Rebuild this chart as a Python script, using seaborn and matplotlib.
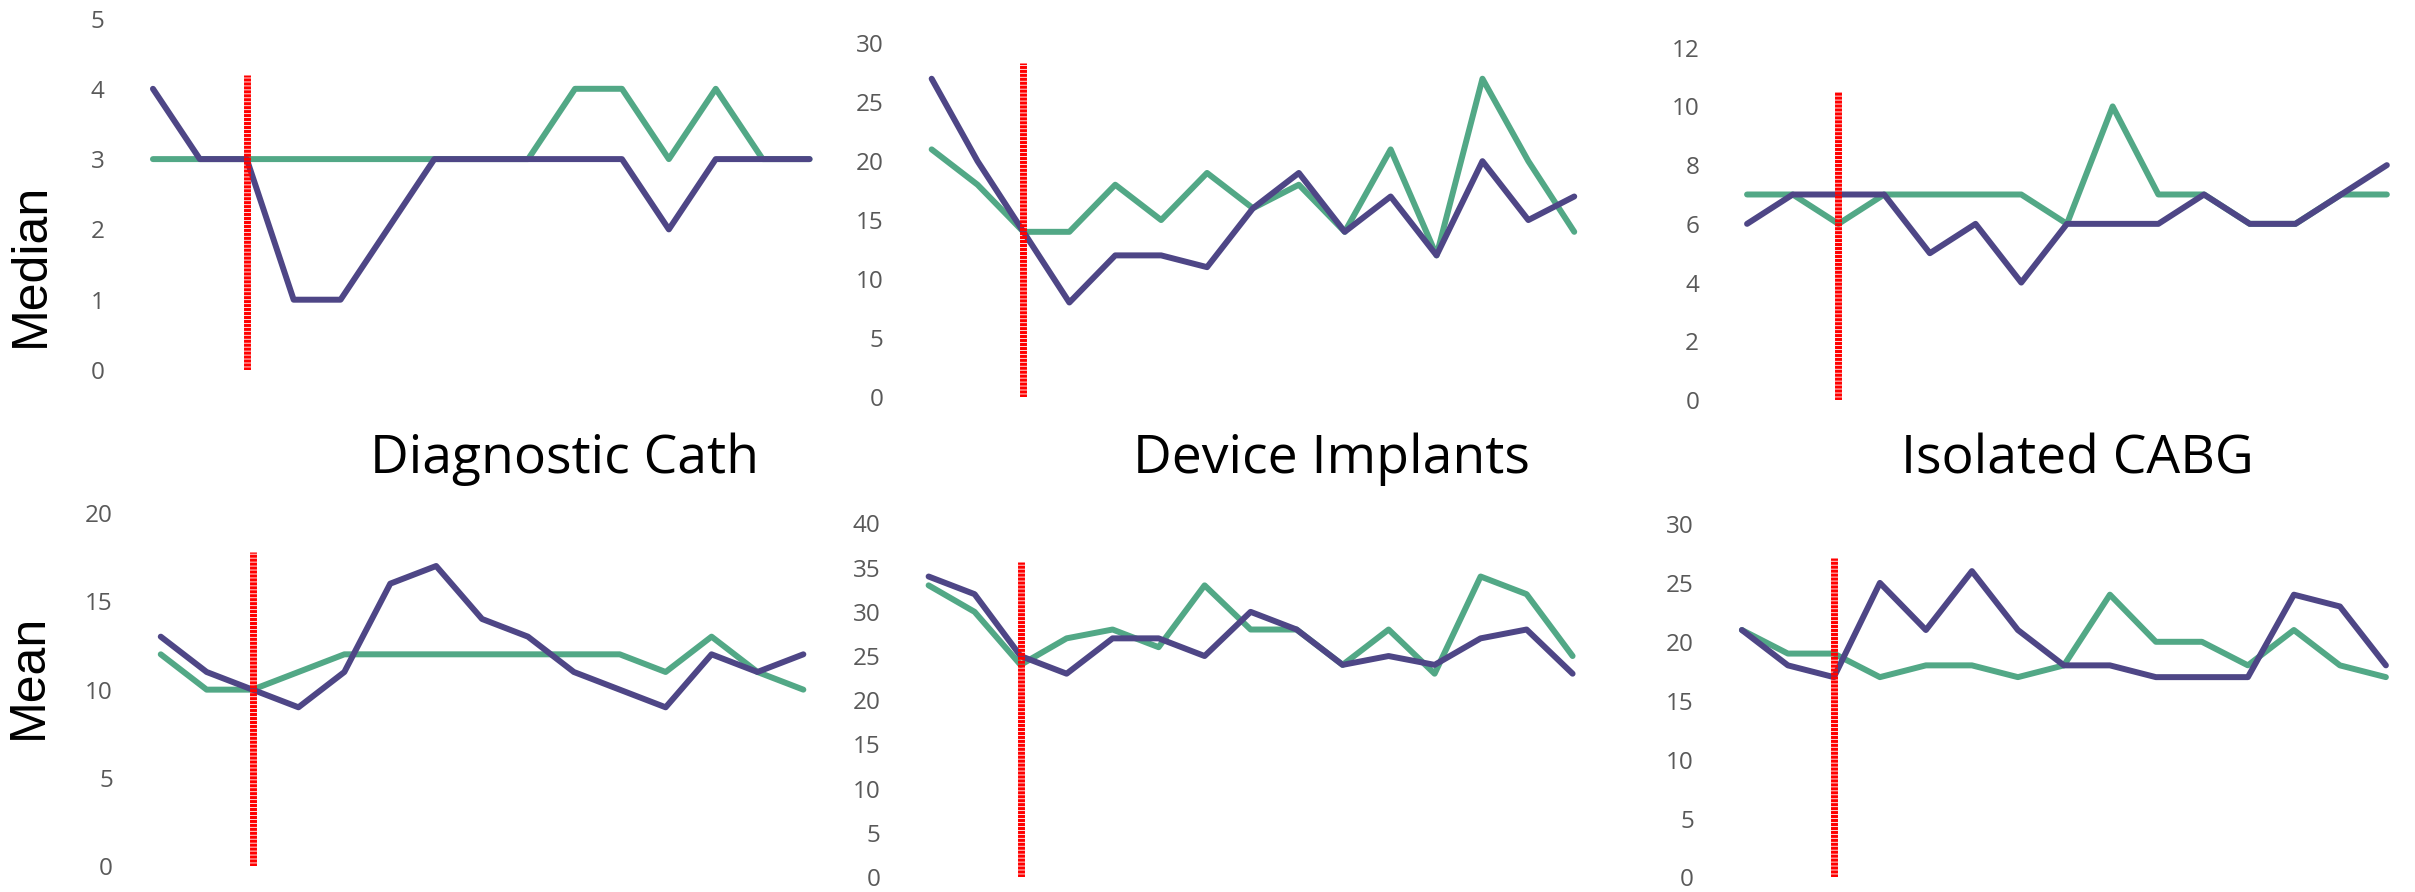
import numpy as np
import pandas as pd
import seaborn as sns
import matplotlib
matplotlib.use("Agg")
import matplotlib.pyplot as plt

# ============================================================================
# DATA
# ============================================================================
periods = list(range(1, 16))
procedures = ["Diagnostic Cath", "Device Implants", "Isolated CABG"]
series_names = ["Group A", "Group B"]  # green, purple

median_cath_green = [3, 3, 3, 3, 3, 3, 3, 3, 3, 4, 4, 3, 4, 3, 3]
median_cath_purple = [4, 3, 3, 1, 1, 2, 3, 3, 3, 3, 3, 2, 3, 3, 3]
median_device_green = [21, 18, 14, 14, 18, 15, 19, 16, 18, 14, 21, 12, 27, 20, 14]
median_device_purple = [27, 20, 14, 8, 12, 12, 11, 16, 19, 14, 17, 12, 20, 15, 17]
median_cabg_green = [7, 7, 6, 7, 7, 7, 7, 6, 10, 7, 7, 6, 6, 7, 7]
median_cabg_purple = [6, 7, 7, 7, 5, 6, 4, 6, 6, 6, 7, 6, 6, 7, 8]

mean_cath_green = [12, 10, 10, 11, 12, 12, 12, 12, 12, 12, 12, 11, 13, 11, 10]
mean_cath_purple = [13, 11, 10, 9, 11, 16, 17, 14, 13, 11, 10, 9, 12, 11, 12]
mean_device_green = [33, 30, 24, 27, 28, 26, 33, 28, 28, 24, 28, 23, 34, 32, 25]
mean_device_purple = [34, 32, 25, 23, 27, 27, 25, 30, 28, 24, 25, 24, 27, 28, 23]
mean_cabg_green = [21, 19, 19, 17, 18, 18, 17, 18, 24, 20, 20, 18, 21, 18, 17]
mean_cabg_purple = [21, 18, 17, 25, 21, 26, 21, 18, 18, 17, 17, 17, 24, 23, 18]

# red marker: period of the change, and how high the marker reaches
change_period = 3
median_marker_top = [4.2, 28.3, 10.5]
mean_marker_top = [17.8, 35.6, 27.1]

# y axis ranges
median_ymax = [5, 30, 12]
median_ystep = [1, 5, 2]
mean_ymax = [20, 40, 30]
mean_ystep = [5, 5, 5]

# ============================================================================
# STYLE / LAYOUT
# ============================================================================
GREEN = "#52A886"
PURPLE = "#4E4686"
RED = "#FF0000"
TICK_GRAY = "#595959"

sns.set_theme(style="white")
plt.rcParams["font.family"] = ["Liberation Sans Narrow", "Open Sans", "DejaVu Sans"]

W, H = 2415, 892
fig = plt.figure(figsize=(W / 100, H / 100), dpi=100)

# axes boxes in pixels: (left, top, width, height)
boxes_px = {
    ("median", 0): (129.5, 18.5, 703.5, 351.5),
    ("median", 1): (908.7, 43.4, 688.5, 353.3),
    ("median", 2): (1724.2, 47.7, 685.5, 352.3),
    ("mean", 0): (137.8, 513.0, 688.5, 353.3),
    ("mean", 1): (905.6, 523.5, 690.0, 353.4),
    ("mean", 2): (1718.9, 524.0, 690.0, 353.4),
}

rows = {
    "median": (
        [median_cath_green, median_device_green, median_cabg_green],
        [median_cath_purple, median_device_purple, median_cabg_purple],
        median_marker_top, median_ymax, median_ystep,
    ),
    "mean": (
        [mean_cath_green, mean_device_green, mean_cabg_green],
        [mean_cath_purple, mean_device_purple, mean_cabg_purple],
        mean_marker_top, mean_ymax, mean_ystep,
    ),
}

palette = {series_names[0]: GREEN, series_names[1]: PURPLE}

for stat, (greens, purples, tops, ymaxs, ysteps) in rows.items():
    for i in range(3):
        l, t, w, h = boxes_px[(stat, i)]
        ax = fig.add_axes([l / W, 1 - (t + h) / H, w / W, h / H])

        df = pd.DataFrame({
            "period": periods * 2,
            "value": greens[i] + purples[i],
            "series": [series_names[0]] * len(periods) + [series_names[1]] * len(periods),
        })
        sns.lineplot(data=df, x="period", y="value", hue="series",
                     hue_order=series_names, palette=palette, ax=ax,
                     linewidth=4.3, legend=False, errorbar=None,
                     solid_capstyle="round", solid_joinstyle="round")

        # dense red/white striped marker line
        ax.vlines(change_period, 0, tops[i], colors=RED, linewidth=5,
                  linestyles=(0, (0.45, 0.12)), zorder=5)

        ax.set_xlim(periods[0] - 0.5, periods[-1] + 0.5)
        ax.set_ylim(0, ymaxs[i])
        ax.set_yticks(np.arange(0, ymaxs[i] + ysteps[i], ysteps[i]))
        ax.set_xticks([])
        ax.set_xlabel("")
        ax.set_ylabel("")
        ax.tick_params(axis="y", labelsize=17.5, labelcolor=TICK_GRAY,
                       length=0, pad=18)
        for sp in ax.spines.values():
            sp.set_visible(False)
        ax.patch.set_alpha(0)

# procedure titles between the rows
title_x = [564, 1331, 2077]
for name, x in zip(procedures, title_x):
    fig.text(x / W, 1 - 473 / H, name, ha="center", va="baseline",
             fontsize=38.5, color="black", family=["Open Sans", "DejaVu Sans"])

# row labels
fig.text(31 / W, 1 - 265 / H, "Median", rotation=90, ha="center", va="center",
         fontsize=36, color="black", family=["Liberation Sans", "DejaVu Sans"])
fig.text(29 / W, 1 - 676 / H, "Mean", rotation=90, ha="center", va="center",
         fontsize=36, color="black", family=["Liberation Sans", "DejaVu Sans"])

fig.savefig("out.png", dpi=100)
